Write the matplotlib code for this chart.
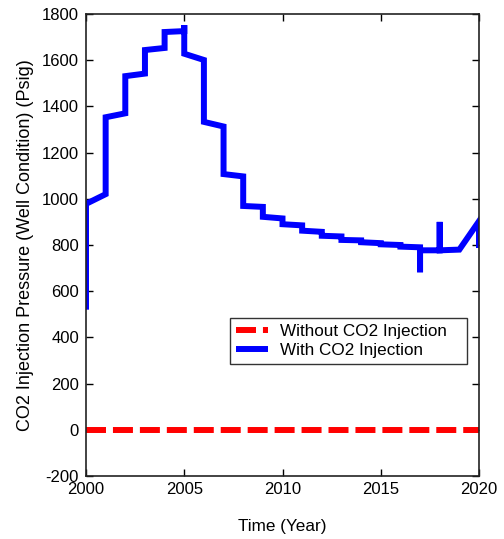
import matplotlib
matplotlib.use("Agg")
import matplotlib.pyplot as plt

plt.rcParams['font.family'] = ['Liberation Sans', 'DejaVu Sans']
plt.rcParams['axes.unicode_minus'] = False

# Blue series: (year, pressure) step-like trace
years_with = [2000, 2000, 2001, 2001, 2002, 2002, 2003, 2003, 2004, 2004,
              2005, 2005, 2005, 2006, 2006, 2007, 2007, 2008, 2008, 2009,
              2009, 2010, 2010, 2011, 2011, 2012, 2012, 2013, 2013, 2014,
              2014, 2015, 2015, 2016, 2016, 2017, 2017, 2017, 2018, 2018,
              2018, 2019, 2020, 2020]
press_with = [520, 978, 1020, 1353, 1370, 1531, 1542, 1644, 1653, 1722,
              1726, 1752, 1628, 1601, 1333, 1313, 1107, 1097, 969, 965,
              922, 915, 890, 885, 862, 857, 840, 837, 822, 820,
              812, 808, 803, 800, 793, 790, 682, 777, 777, 900,
              777, 780, 903, 787]

years_without = [2000, 2020]
press_without = [0, 0]

xticks = [2000, 2005, 2010, 2015, 2020]
yticks = [-200, 0, 200, 400, 600, 800, 1000, 1200, 1400, 1600, 1800]

fig = plt.figure(figsize=(5.04, 5.39), dpi=100)
ax = fig.add_axes([86/504, 1 - 476/539, (479-86)/504, (476-14)/539])

lw = 4.3
ax.plot(years_without, press_without, color='#ff0000', lw=lw,
        dashes=(14.4/lw, 5.0/lw), label='Without CO2 Injection', dash_capstyle='butt')
ax.plot(years_with, press_with, color='#0000ff', lw=lw,
        label='With CO2 Injection', solid_joinstyle='miter', solid_capstyle='butt')

ax.set_xlim(2000, 2020)
ax.set_ylim(-200, 1800)
ax.set_xticks(xticks)
ax.set_yticks(yticks)
ax.tick_params(direction='in', top=True, right=True, length=5, width=1,
               labelsize=12, colors='black', pad=4)
ax.tick_params(axis='y', pad=5)
for s in ax.spines.values():
    s.set_linewidth(1.2)
    s.set_color('#222222')

ax.set_xlabel('Time (Year)', fontsize=12.3, labelpad=16)
ax.set_ylabel('CO2 Injection Pressure (Well Condition) (Psig)', fontsize=13, labelpad=6)

leg = ax.legend(loc='lower left', bbox_to_anchor=((230-86)/393, (476-364)/462, (467-230)/393, 50/462),
                mode='expand', fontsize=12.3, frameon=True, fancybox=False,
                handlelength=1.9, borderaxespad=0, borderpad=0.35, labelspacing=0.25,
                handletextpad=0.7)
leg.get_frame().set_edgecolor('black')
leg.get_frame().set_linewidth(1.0)

fig.savefig('out.png', dpi=100)
